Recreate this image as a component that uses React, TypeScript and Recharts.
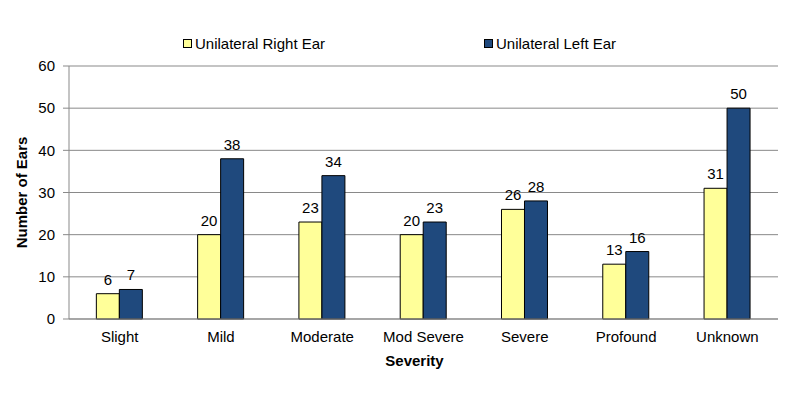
import React from "react";
import { BarChart, Bar, XAxis, YAxis, CartesianGrid, Legend, LabelList } from "recharts";

const categories = ["Slight", "Mild", "Moderate", "Mod Severe", "Severe", "Profound", "Unknown"];
const rightEar = [6, 20, 23, 20, 26, 13, 31];
const leftEar = [7, 38, 34, 23, 28, 16, 50];
const yTicks = [0, 10, 20, 30, 40, 50, 60];

const data = categories.map((c, i) => ({ severity: c, right: rightEar[i], left: leftEar[i] }));

const font = "'Liberation Sans', Arial, sans-serif";
const yellow = "#FFFF99";
const navy = "#1F497D";

function LegendBox() {
  const item = (color: string, text: string, left: number) => (
    <div style={{ position: "absolute", left, top: 0, display: "flex", alignItems: "center" }}>
      <span
        style={{ width: 7, height: 7, background: color, border: "1px solid #000", marginRight: 3, display: "inline-block" }}
      />
      <span style={{ fontSize: 15, color: "#000", fontFamily: font }}>{text}</span>
    </div>
  );
  return (
    <div style={{ position: "relative", width: 800, height: 20 }}>
      {item(yellow, "Unilateral Right Ear", 183)}
      {item(navy, "Unilateral Left Ear", 484)}
    </div>
  );
}

export default function App() {
  return (
    <div style={{ position: "absolute", left: 0, top: 0, width: 800, height: 400, background: "#fff", fontFamily: font }}>
      <BarChart
        width={800}
        height={400}
        data={data}
        margin={{ top: 46, right: 22, left: 0, bottom: 21 }}
        barCategoryGap="27%"
        barGap={0}
      >
        <Legend verticalAlign="top" content={() => <LegendBox />} wrapperStyle={{ top: 35, left: 0, width: 800 }} />
        <CartesianGrid vertical={false} stroke="#898989" strokeWidth={1} />
        <XAxis
          dataKey="severity"
          axisLine={{ stroke: "#898989" }}
          tickLine={false}
          tick={{ fontSize: 15, fill: "#000", fontFamily: font }}
          tickMargin={6}
          height={60}
          label={{ value: "Severity", position: "insideBottom", offset: 13, dx: -9, style: { fontSize: 15, fontWeight: "bold", fill: "#000", fontFamily: font } }}
        />
        <YAxis
          domain={[0, 60]}
          ticks={yTicks}
          width={69}
          axisLine={{ stroke: "#898989" }}
          tickLine={{ stroke: "#898989" }}
          tickSize={6}
          tickMargin={8}
          tick={{ fontSize: 15, fill: "#000", fontFamily: font }}
          label={{ value: "Number of Ears", angle: -90, position: "insideLeft", offset: 22, style: { textAnchor: "middle", fontSize: 15, fontWeight: "bold", fill: "#000", fontFamily: font } }}
        />
        <Bar dataKey="right" fill={yellow} stroke="#000" strokeWidth={1} isAnimationActive={false}>
          <LabelList dataKey="right" position="top" offset={9} style={{ fontSize: 15, fill: "#000", fontFamily: font }} />
        </Bar>
        <Bar dataKey="left" fill={navy} stroke="#000" strokeWidth={1} isAnimationActive={false}>
          <LabelList dataKey="left" position="top" offset={9} style={{ fontSize: 15, fill: "#000", fontFamily: font }} />
        </Bar>
      </BarChart>
    </div>
  );
}
